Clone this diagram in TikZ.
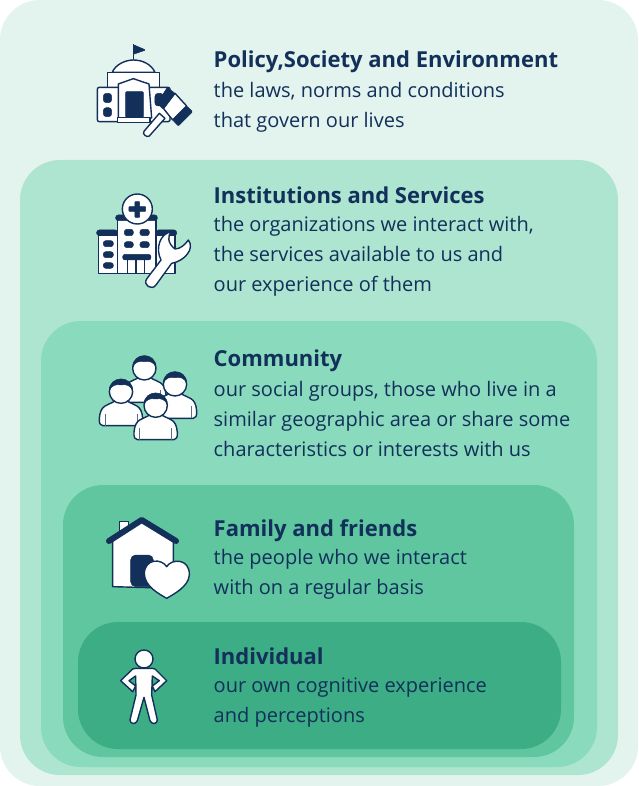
\documentclass[tikz,border=0pt]{standalone}
\usepackage{fontspec}
\setmainfont{Open Sans}
\definecolor{navy}{HTML}{12305A}
\definecolor{lay1}{HTML}{E3F4EE}
\definecolor{lay2}{HTML}{ADE5D0}
\definecolor{lay3}{HTML}{8ADBBD}
\definecolor{lay4}{HTML}{5FC6A0}
\definecolor{lay5}{HTML}{3CAD85}
\tikzset{
 layer/.style={rounded corners=40pt},
 txt/.style={anchor=north west,inner sep=0pt,align=left,text=navy,font=\fontsize{20}{30}\selectfont},
 wf/.style={fill=white,draw=navy,line width=1.4pt,line join=round},
 nf/.style={fill=navy,draw=navy,line width=.5pt,line join=round,rounded corners=1pt},
 pics/person/.style={code={
  \path[wf] (-18,28) .. controls (-40,42) and (-62,38) .. (-65,80) .. controls (-66,95) and (-62,102) .. (-55,102) -- (55,102) .. controls (62,102) and (66,95) .. (65,80) .. controls (62,38) and (40,42) .. (18,28) -- cycle;
  \draw[navy!70,line width=.7pt] (-48,66) -- (-48,102) (48,66) -- (48,102);
  \path[wf] (0,0) circle (35);
  \path[nf,rounded corners=0pt] (-35,-3) .. controls (-35,-50) and (35,-50) .. (35,-3) .. controls (30,-18) and (15,-24) .. (0,-20) .. controls (-15,-24) and (-30,-18) .. (-35,-3) -- cycle;
 }}
}
\newcommand{\bd}[1]{{\fontsize{22}{30}\selectfont\bfseries #1}}
\begin{document}
\begin{tikzpicture}[x=1pt,y=-1pt]
\useasboundingbox (0,0) rectangle (638,786);
\fill[white] (0,0) rectangle (638,786);
\fill[lay1,layer] (0,0) rectangle (638,786);
\fill[lay2,layer] (20,160) rectangle (618,775);
\fill[lay3,layer] (41,321) rectangle (597,767);
\fill[lay4,layer] (63,485) rectangle (574,757);
\fill[lay5,layer] (78,622) rectangle (561,749);

\node[txt] (policy) at (213.5,51) {\bd{Policy,Society and Environment}\\the laws, norms and conditions\\that govern our lives};
\node[txt] (inst) at (213.5,187) {\bd{Institutions and Services}\\[-2pt]the organizations we interact with,\\the services available to us and\\our experience of them};
\node[txt] (comm) at (213.5,350) {\bd{Community}\\our social groups, those who live in a\\similar geographic area or share some\\characteristics or interests with us};
\node[txt] (fam) at (213.5,519) {\bd{Family and friends}\\[-2pt]the people who we interact\\with on a regular basis};
\node[txt] (ind) at (213.5,648) {\bd{Individual}\\[-2pt]our own cognitive experience\\and perceptions};

% government + gavel
\begin{scope}[xshift=80pt,yshift=-30pt,x=0.3333pt,y=-0.3333pt]
 \draw[navy,line width=1.5pt] (160,90) -- (160,42);
 \path[nf] (160,44) -- (197,60) -- (160,73) -- cycle;
 \path[wf] (97,127) .. controls (105,105) and (135,90) .. (160,90) .. controls (190,90) and (215,105) .. (225,127) -- cycle;
 \path[wf] (82,127) -- (238,127) -- (238,175) -- (82,175) -- cycle;
 \path[wf,rounded corners=2pt] (52,172) -- (270,172) -- (270,275) -- (52,275) -- cycle;
 \path[wf] (115,162) -- (160,146) -- (207,162) -- (215,264) -- (115,264) -- cycle;
 \path[nf] (137,185) rectangle (190,262);
 \path[wf] (112,262) rectangle (210,278);
 \path[nf,rounded corners=3pt] (70,190) rectangle (95,218) (70,233) rectangle (95,260) (225,190) rectangle (250,228);
 \path[wf] (238,250) -- (255,265) -- (208,318) .. controls (200,324) and (186,312) .. (192,304) -- cycle;
 \path[wf] (285,190) -- (320,228) -- (278,270) -- (250,235) -- cycle;
 \path[nf] (262,172) -- (285,190) -- (250,238) -- (232,220) -- cycle;
 \path[nf] (320,228) -- (338,245) -- (295,288) -- (278,270) -- cycle;
\end{scope}

% hospital + wrench
\begin{scope}[xshift=80pt,yshift=-185pt,x=0.3333pt,y=-0.3333pt]
 \path[wf] (113,100) rectangle (228,265);
 \path[wf] (55,150) rectangle (113,265);
 \path[wf] (228,150) rectangle (285,265);
 \path[nf,rounded corners=2.5pt] (107,90) rectangle (232,107) (50,135) rectangle (113,152) (228,135) rectangle (290,152);
 \path[wf] (172,72) circle (45);
 \path[nf,rounded corners=.5pt] (165,50) -- (179,50) -- (179,65) -- (197,65) -- (197,79) -- (179,79) -- (179,97) -- (165,97) -- (165,79) -- (147,79) -- (147,65) -- (165,65) -- cycle;
 \path[nf,rounded corners=2.5pt] (133,133) rectangle (160,152) (180,133) rectangle (208,152) (133,170) rectangle (160,188) (180,170) rectangle (208,188) (128,208) rectangle (213,225) (70,167) rectangle (100,185) (70,200) rectangle (100,218) (70,233) rectangle (100,250);
 \draw[navy,line width=1.5pt] (143,225) -- (143,265) (168,225) -- (168,265) (193,225) -- (193,265);
 \path[wf] (275,140) .. controls (262,150) and (262,175) .. (285,192) .. controls (300,192) and (315,180) .. (325,165) .. controls (345,190) and (315,228) .. (275,235) -- (228,300) .. controls (215,318) and (188,300) .. (200,282) -- (243,225) .. controls (225,190) and (240,145) .. (275,140) -- cycle;
\end{scope}

% community
\begin{scope}[xshift=85pt,yshift=-345pt,x=0.3333pt,y=-0.3333pt]
 \pic at (178,70) {person};
 \pic at (270,118) {person};
 \pic at (108,140) {person};
 \pic at (212,182) {person};
\end{scope}

% house + heart
\begin{scope}[xshift=90pt,yshift=-505pt,x=0.3333pt,y=-0.3333pt]
 \path[wf,line width=.8pt] (88,48) rectangle (115,85);
 \path[wf] (68,105) -- (155,50) -- (250,110) -- (250,250) -- (68,245) -- cycle;
 \draw[navy,line width=6pt,line cap=round,line join=round] (57,108) -- (155,45) -- (258,108);
 \path[nf,rounded corners=5pt] (122,245) -- (122,150) -- (190,150) -- (190,245) -- cycle;
 \path[wf] (230,185) .. controls (245,160) and (300,160) .. (298,210) .. controls (296,245) and (250,268) .. (230,280) .. controls (210,268) and (163,245) .. (163,205) .. controls (165,160) and (215,160) .. (230,185) -- cycle;
\end{scope}

% individual
\begin{scope}[xshift=100pt,yshift=-640pt,x=0.3333pt,y=-0.3333pt]
 \path[wf] (132,57) circle (27);
 \path[wf] (107,85) -- (157,85) -- (165,87) -- (200,122) -- (165,155) -- (157,138) -- (178,122) -- (157,108) -- (155,165) -- (172,240) .. controls (172,252) and (155,255) .. (150,242) -- (132,172) -- (112,242) .. controls (107,255) and (90,252) .. (90,240) -- (108,165) -- (107,108) -- (87,122) -- (107,138) -- (98,155) -- (62,122) -- (98,87) -- cycle;
\end{scope}
\end{tikzpicture}
\end{document}
